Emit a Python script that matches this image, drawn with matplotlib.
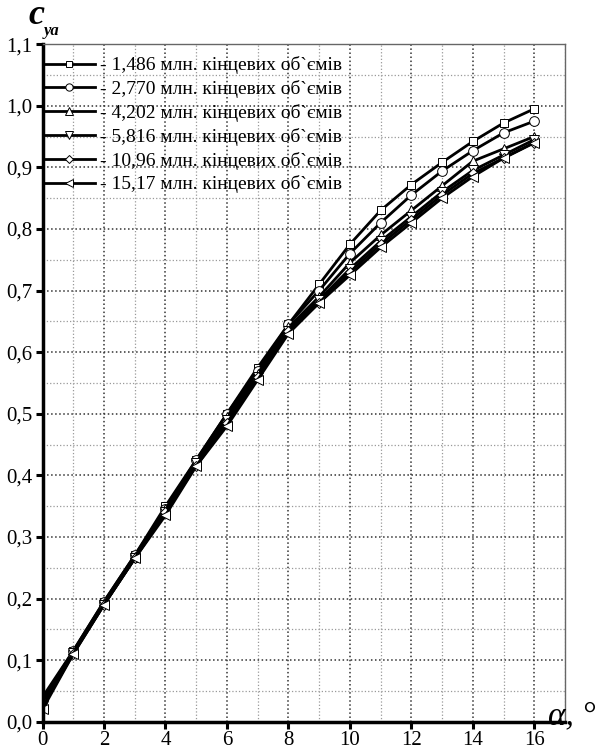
import numpy as np
import matplotlib.pyplot as plt
from matplotlib.ticker import MultipleLocator, FuncFormatter

plt.rcParams['font.family'] = ['Liberation Serif', 'DejaVu Serif']

alpha = [0, 1, 2, 3, 4, 5, 6, 7, 8, 9, 10, 11, 12, 13, 14, 15, 16]

cya_1486 = [0.040, 0.115, 0.195, 0.270, 0.350, 0.425, 0.500, 0.575, 0.645, 0.710, 0.775, 0.830, 0.872, 0.908, 0.942, 0.972, 0.995]
cya_2770 = [0.035, 0.115, 0.195, 0.270, 0.345, 0.425, 0.500, 0.570, 0.645, 0.700, 0.760, 0.810, 0.855, 0.894, 0.927, 0.956, 0.975]
cya_4202 = [0.030, 0.113, 0.193, 0.268, 0.345, 0.420, 0.495, 0.565, 0.640, 0.690, 0.745, 0.790, 0.830, 0.870, 0.910, 0.930, 0.950]
cya_5816 = [0.030, 0.112, 0.190, 0.265, 0.340, 0.420, 0.490, 0.560, 0.635, 0.685, 0.735, 0.780, 0.820, 0.860, 0.895, 0.920, 0.945]
cya_1096 = [0.025, 0.110, 0.190, 0.265, 0.340, 0.415, 0.485, 0.560, 0.635, 0.680, 0.730, 0.775, 0.815, 0.855, 0.890, 0.915, 0.940]
cya_1517 = [0.020, 0.110, 0.190, 0.265, 0.335, 0.415, 0.480, 0.555, 0.630, 0.680, 0.725, 0.770, 0.810, 0.850, 0.885, 0.915, 0.940]

series = [cya_1486, cya_2770, cya_4202, cya_5816, cya_1096, cya_1517]
labels = ['- 1,486 млн. кінцевих об`ємів',
          '- 2,770 млн. кінцевих об`ємів',
          '- 4,202 млн. кінцевих об`ємів',
          '- 5,816 млн. кінцевих об`ємів',
          '- 10,96 млн. кінцевих об`ємів',
          '- 15,17 млн. кінцевих об`ємів']
markers = ['s', 'o', '^', 'v', 'D', '<']
msizes = [6, 7, 7, 7, 5.5, 7]

fig = plt.figure(figsize=(6.1, 7.49), dpi=100)
ax = fig.add_axes([0.0697, 0.0364, 0.8566, 0.9047])

for y, lab, m, s in zip(series, labels, markers, msizes):
    ax.plot(alpha, y, '-', color='black', lw=2.0, marker=m, ms=s,
            mfc='white', mec='black', mew=0.7, label=lab)

ax.set_xlim(0, 17)
ax.set_ylim(0, 1.1)
ax.xaxis.set_major_locator(MultipleLocator(2))
ax.xaxis.set_minor_locator(MultipleLocator(1))
ax.yaxis.set_major_locator(MultipleLocator(0.1))
ax.yaxis.set_minor_locator(MultipleLocator(0.05))
ax.yaxis.set_major_formatter(FuncFormatter(lambda v, p: ('%.1f' % v).replace('.', ',')))

ax.grid(which='major', linestyle=':', color='#333333', lw=1.1)
ax.grid(which='minor', linestyle=':', color='#999999', lw=0.9)
ax.set_axisbelow(True)

ax.tick_params(which='major', direction='out', length=5, width=2.2, labelsize=15, pad=2)
ax.tick_params(which='minor', length=0)
for side in ['left', 'bottom']:
    ax.spines[side].set_linewidth(2.5)
for side in ['top', 'right']:
    ax.spines[side].set_linewidth(1.0)
    ax.spines[side].set_color('#666666')

ax.legend(loc='upper left', bbox_to_anchor=(0.0, 0.982), frameon=False,
          fontsize=14, handlelength=2.7, handletextpad=0.25, labelspacing=0.3,
          borderaxespad=0.0, borderpad=0.0, markerscale=0.75)

# axis captions
fig.text(0.046, 0.979, 'c', fontsize=26, fontweight='bold', style='italic', ha='left', va='center')
fig.text(0.072, 0.959, 'ya', fontsize=12, fontweight='bold', style='italic', ha='left', va='center')
fig.text(0.898, 0.044, 'α, °', fontsize=24, style='italic', ha='left', va='center')

fig.savefig('out.png', dpi=100)
